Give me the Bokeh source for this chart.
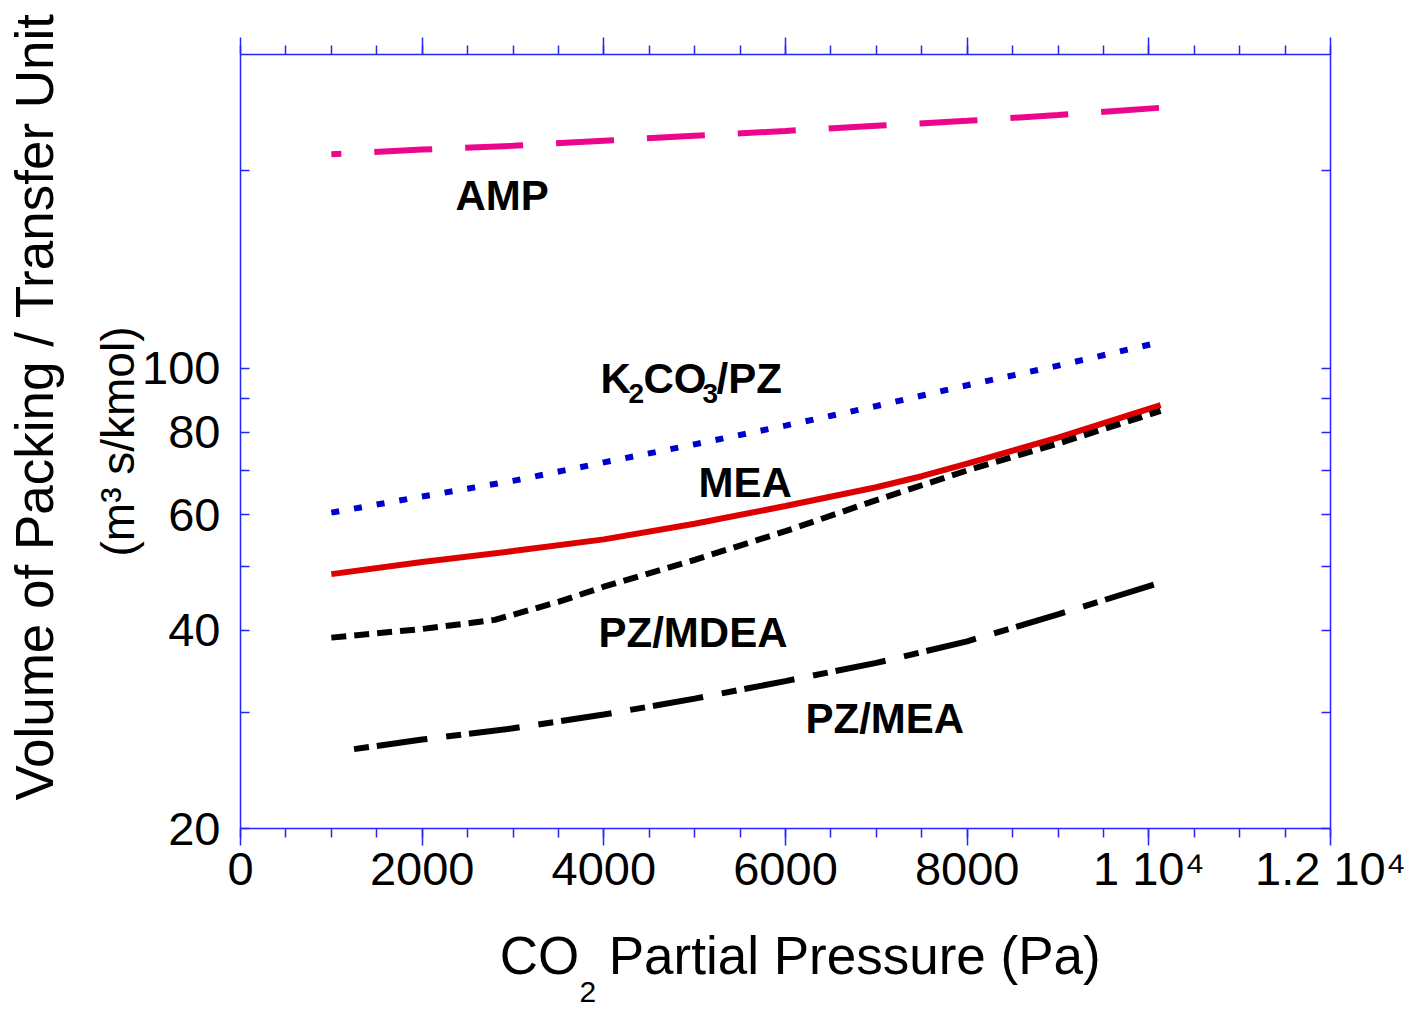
from bokeh.plotting import figure
from bokeh.models import (Range1d, LinearAxis, LogAxis, FixedTicker,
                          PrintfTickFormatter, Label, Title)
from bokeh.embed import file_html
from bokeh.resources import INLINE

# ---------------- data ----------------
X_TICKS = [0, 2000, 4000, 6000, 8000, 10000, 12000]
X_MINOR = [500 * i for i in range(25)]
X_SCI_LABELS = {10000: "1 10\u2074", 12000: "1.2 10\u2074"}
Y_TICKS = [20, 40, 60, 80, 100]
Y_MINOR = [30, 50, 70, 90, 200]

AMP_X = [1000, 2000, 3000, 4000, 5000, 6000, 7000, 8000, 9000, 10130]
AMP_Y = [211.7, 215.1, 218.0, 221.9, 225.8, 229.6, 233.8, 237.9, 242.7, 249.0]

K2CO3_X = [1000, 2000, 3000, 4000, 5000, 6000, 7000, 8000, 9000, 10130]
K2CO3_Y = [60.4, 63.9, 67.5, 72.0, 76.7, 81.9, 87.7, 94.3, 101.0, 109.7]

MEA_X = [1000, 2000, 3000, 4000, 5000, 6000, 7000, 7500, 8000, 9000, 10130]
MEA_Y = [48.7, 50.8, 52.8, 55.0, 58.1, 61.8, 66.0, 68.6, 71.7, 78.5, 88.0]

MDEA_X = [1000, 2000, 2800, 3500, 4000, 5000, 6000, 7000, 8000, 9000, 10130]
MDEA_Y = [39.0, 40.2, 41.5, 44.2, 46.6, 51.2, 56.6, 63.1, 70.0, 76.9, 86.2]

PZMEA_X = [1250, 2000, 3000, 4000, 5000, 6000, 7000, 8000, 9000, 10130]
PZMEA_Y = [26.4, 27.3, 28.4, 29.8, 31.5, 33.5, 35.7, 38.5, 42.3, 47.3]

# curve labels: (text, x, y) in data units (left edge / vertical middle)
CURVE_LABELS = [("AMP", 2367, 183.2), ("MEA", 5042, 67.1),
                ("PZ/MDEA", 3941, 39.7), ("PZ/MEA", 6220, 29.4)]
K_LABEL_POS = (3963, 96.7)

Y_TITLE = "Volume of Packing / Transfer Unit"
Y_UNITS = "(m\u00b3 s/kmol)"
X_TITLE = "CO\u00a0\u00a0Partial Pressure (Pa)"

FONT = "Liberation Sans"
AXIS_COLOR = "#2424ff"
NBSP = "\u00a0"

p = figure(width=1414, height=1009,
           x_range=Range1d(0, 12000), y_range=Range1d(20, 300),
           y_axis_type="log", output_backend="svg", toolbar_location=None,
           min_border_left=240, min_border_right=84,
           min_border_top=54, min_border_bottom=181,
           outline_line_color=None, background_fill_color="white",
           border_fill_color="white")
p.xgrid.visible = False
p.ygrid.visible = False

xticker = FixedTicker(ticks=X_TICKS, minor_ticks=X_MINOR)
yticker = FixedTicker(ticks=Y_TICKS, minor_ticks=Y_MINOR)


def style(ax, horizontal):
    ax.axis_line_color = AXIS_COLOR
    ax.axis_line_width = 1.5
    ax.major_tick_line_color = AXIS_COLOR
    ax.minor_tick_line_color = AXIS_COLOR
    ax.major_tick_line_width = 1.5
    ax.minor_tick_line_width = 1.5
    ax.major_label_text_font = FONT
    ax.major_label_text_color = "black"
    ax.major_label_text_font_size = "47px"
    ax.axis_label_text_font = FONT
    ax.axis_label_text_font_style = "normal"
    ax.axis_label_text_color = "black"
    if horizontal:
        ax.major_tick_out = 17
        ax.major_tick_in = 0
        ax.minor_tick_out = 9
        ax.minor_tick_in = 0
    else:
        ax.major_tick_out = 0
        ax.major_tick_in = 9
        ax.minor_tick_out = 0
        ax.minor_tick_in = 9


def hide_labels(ax):
    ax.major_label_text_font_size = "1px"
    ax.major_label_text_color = None
    ax.major_label_standoff = 0


# bottom axis
bottom = p.xaxis[0]
bottom.ticker = xticker
bottom.formatter = PrintfTickFormatter(format="%d")
bottom.major_label_overrides = X_SCI_LABELS
style(bottom, True)
bottom.major_label_standoff = -4
bottom.axis_label = NBSP * 2 + X_TITLE
bottom.axis_label_text_font_size = "53px"
bottom.axis_label_standoff = 28

# subscript of CO2 (below the title line, as in the original)
p.add_layout(Title(text="2", align="left", offset=339, vertical_align="top",
                   standoff=-12, text_font=FONT, text_font_size="30px",
                   text_font_style="normal", text_color="black"), "below")

# left axis (ticks + units line)
left = p.yaxis[0]
left.ticker = yticker
left.formatter = PrintfTickFormatter(format="%d")
style(left, False)
left.major_label_standoff = 20
left.axis_label = Y_UNITS
left.axis_label_text_font_size = "46px"
left.axis_label_standoff = -5

# second left axis carrying only the main y title
left2 = LogAxis(ticker=FixedTicker(ticks=[], minor_ticks=[]))
style(left2, False)
hide_labels(left2)
left2.axis_line_color = None
left2.major_tick_line_color = None
left2.minor_tick_line_color = None
left2.major_tick_in = 0
left2.minor_tick_in = 0
left2.axis_label = NBSP * 4 + "\u2009" + Y_TITLE
left2.axis_label_text_font_size = "53px"
left2.axis_label_standoff = 26
p.add_layout(left2, "left")

# mirror axes
top = LinearAxis(ticker=xticker)
style(top, True)
hide_labels(top)
p.add_layout(top, "above")

right = LogAxis(ticker=yticker)
style(right, False)
hide_labels(right)
p.add_layout(right, "right")

# ---------------- curves ----------------
p.line(AMP_X, AMP_Y, line_color="#ec068c", line_width=6,
       line_dash="58 33", line_dash_offset=48)
p.line(K2CO3_X, K2CO3_Y, line_color="#0000cc", line_width=6,
       line_dash="8 15")
p.line(MEA_X, MEA_Y, line_color="#dd0000", line_width=6)
p.line(MDEA_X, MDEA_Y, line_color="black", line_width=6,
       line_dash="15 8")
p.line(PZMEA_X, PZMEA_Y, line_color="black", line_width=6,
       line_dash="15 8 51 19")

# ---------------- curve labels ----------------
for txt, lx, ly in CURVE_LABELS:
    p.add_layout(Label(x=lx, y=ly, text=txt, text_font=FONT,
                       text_font_style="bold", text_font_size="42px",
                       text_align="left", text_baseline="middle",
                       text_color="black"))

kx, ky = K_LABEL_POS
for txt, dx, dy, size in [("K", 0, 0, "42px"), ("2", 28, -15, "28px"),
                          ("CO", 43, 0, "42px"), ("3", 102, -15, "28px"),
                          ("/PZ", 116, 0, "42px")]:
    p.add_layout(Label(x=kx, y=ky, x_offset=dx, y_offset=dy, text=txt,
                       text_font=FONT, text_font_style="bold",
                       text_font_size=size, text_align="left",
                       text_baseline="middle", text_color="black"))

open("out.html", "w").write(file_html(p, INLINE))
